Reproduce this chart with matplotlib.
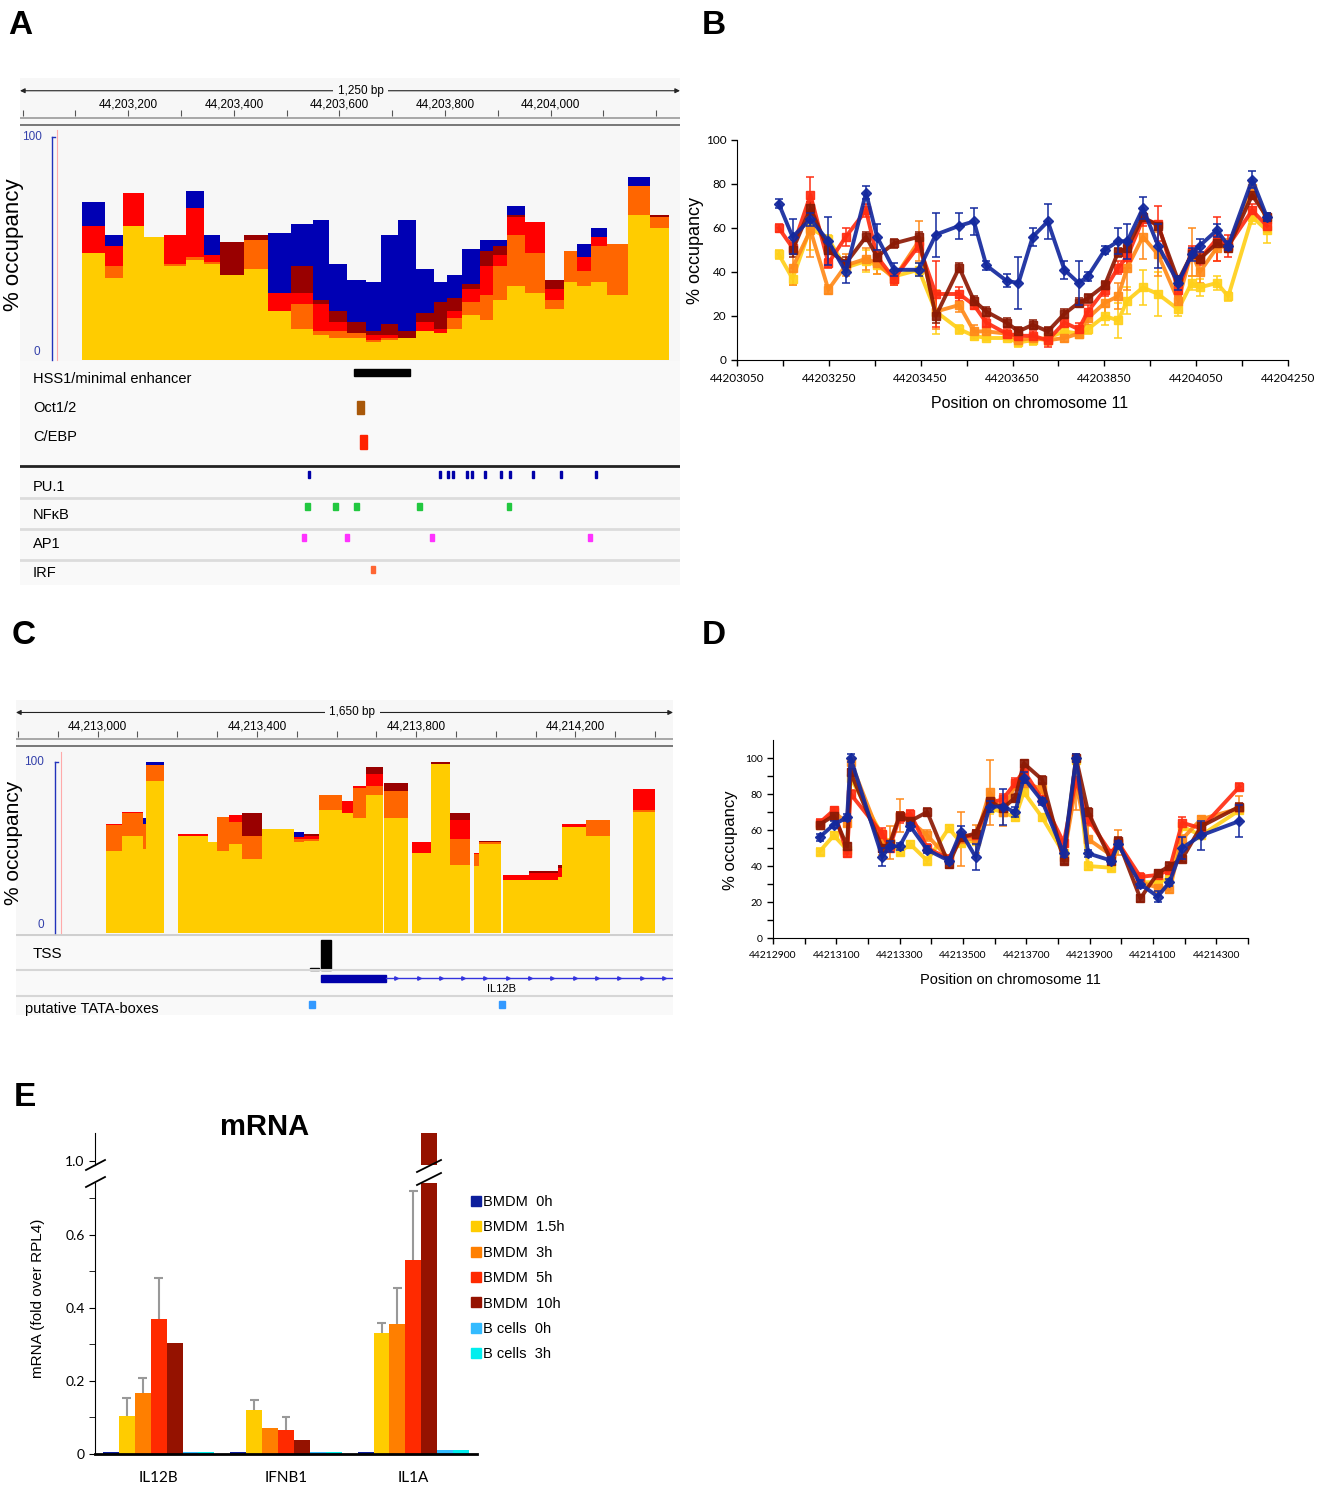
import numpy as np
import matplotlib
matplotlib.use('Agg')
import matplotlib.pyplot as plt
from matplotlib.lines import Line2D
from matplotlib.patches import Rectangle

plt.rcParams['font.family'] = ['Liberation Sans', 'DejaVu Sans']

# ---------------- data: HSS1 region (panels A, B) ----------------
nan = np.nan
b_pos = [44203141, 44203171, 44203210, 44203249, 44203287, 44203331, 44203355, 44203392,
         44203446, 44203483, 44203534, 44203566, 44203593, 44203637, 44203663, 44203694,
         44203727, 44203763, 44203794, 44203814, 44203851, 44203880, 44203900, 44203934,
         44203967, 44204011, 44204040, 44204058, 44204095, 44204120, 44204172, 44204204]
b_0h = [71, 56, 64, 54, 40, 76, 56, 41, 41, 57, 61, 63, 43, 36, 35, 56,
        63, 41, 35, 38, 50, 54, 54, 69, 52, 35, 48, 52, 59, 52, 82, 65]
b_1h5 = [48, 37, 60, 55, 42, 45, 43, 38, 41, 22, 14, 11, 10, 10, 8, 9,
         10, 13, 12, 14, 20, 18, 27, 33, 30, 23, 35, 33, 35, 29, 65, 59]
b_3h = [nan, 42, 59, 32, 43, 46, 44, 37, 54, 22, 25, 13, 13, 12, 9, 10,
        9, 10, 12, 19, 26, 29, 42, 56, 48, 27, 49, 40, 51, 52, 78, 64]
b_5h = [60, 51, 75, 44, 56, 68, 47, 37, 52, 30, 30, 25, 17, 12, 11, 11,
        9, 17, 14, 22, 32, 42, 47, 64, 62, 32, 49, 46, 55, 52, 68, 61]
b_10h = [nan, 50, 69, 50, 44, 56, 47, 53, 56, 20, 42, 27, 22, 17, 13, 16,
         13, 21, 26, 28, 34, 49, 51, 65, 61, 36, 48, 46, 53, 51, 75, 65]
b_err_0h = [2, 8, 3, 11, 5, 3, 6, 3, 3, 10, 6, 6, 2, 3, 12, 4, 8, 4, 10, 2, 2, 6, 8, 5, 10, 3, 3, 3, 3, 2, 4, 2]
b_err_1h5 = [2, 3, 10, 2, 2, 5, 4, 3, 3, 10, 2, 2, 1, 1, 2, 2, 2, 2, 2, 2, 4, 8, 6, 8, 10, 3, 3, 4, 3, 2, 3, 6]
b_err_3h = [0, 8, 12, 2, 5, 5, 5, 3, 9, 8, 3, 3, 2, 1, 2, 2, 2, 2, 2, 3, 6, 6, 10, 10, 10, 3, 11, 5, 6, 3, 3, 3]
b_err_5h = [2, 3, 8, 2, 4, 3, 3, 3, 3, 15, 3, 2, 2, 2, 2, 2, 3, 2, 3, 3, 3, 3, 5, 3, 8, 3, 3, 3, 10, 5, 3, 3]
b_err_10h = [0, 3, 3, 2, 3, 2, 2, 2, 2, 3, 2, 2, 2, 2, 2, 2, 2, 2, 2, 2, 2, 2, 2, 2, 2, 2, 2, 2, 2, 2, 2, 2]
a_first_edge, a_last_edge = 44203113, 44204225

hss1 = (44203628, 44203734)
oct12 = (44203633, 44203647)
cebp = (44203639, 44203652)
pu1_sites = [44203542, 44203790, 44203806, 44203815, 44203842, 44203851, 44203876,
             44203906, 44203923, 44203967, 44204020, 44204086]
nfkb_sites = [44203540, 44203593, 44203633, 44203751, 44203921]
ap1_sites = [44203533, 44203614, 44203775, 44204075]
irf_sites = [44203663]

# ---------------- data: IL12B promoter (panels C, D) ----------------
d_pos = [44213047, 44213092, 44213134, 44213145, 44213245, 44213268, 44213300, 44213334,
         44213387, 44213455, 44213493, 44213540, 44213584, 44213625, 44213665, 44213692,
         44213750, 44213818, 44213857, 44213895, 44213968, 44213990, 44214060, 44214115,
         44214152, 44214192, 44214252, 44214373]
d_0h = [56, 63, 67, 100, 45, 51, 51, 62, 49, 43, 59, 45, 73, 73, 70, 89,
        76, 47, 100, 47, 43, 52, 30, 23, 31, 50, 57, 65]
d_1h5 = [48, 57, 49, 89, 57, 53, 48, 52, 43, 61, 53, 54, 72, 70, 67, 81,
         67, 47, 99, 40, 39, 52, 31, 31, 33, 62, 57, 71]
d_3h = [63, 70, 64, 98, 53, 53, 68, 65, 57, 44, 55, 55, 81, 70, 85, 86,
        83, 45, 85, 55, 46, 53, 31, 28, 27, 55, 66, 72]
d_5h = [64, 71, 47, 80, 58, 50, 67, 69, 50, 44, 56, 57, 75, 77, 86, 93,
        77, 53, 88, 66, 47, 53, 34, 35, 38, 64, 61, 84]
d_10h = [63, 68, 51, 92, 50, 52, 68, 65, 70, 41, 56, 58, 76, 72, 78, 97,
         88, 43, 100, 70, 43, 54, 22, 36, 40, 44, 62, 73]
d_err_0h = [2, 2, 2, 2, 5, 3, 2, 2, 2, 2, 3, 7, 3, 10, 3, 3, 2, 2, 2, 2, 2, 2, 2, 3, 2, 6, 8, 9]
d_err_1h5 = [2, 2, 2, 2, 3, 2, 2, 2, 2, 2, 2, 2, 3, 2, 2, 2, 2, 2, 2, 2, 2, 2, 2, 2, 2, 2, 2, 2]
d_err_3h = [2, 2, 2, 2, 7, 9, 9, 3, 3, 2, 15, 8, 18, 8, 3, 3, 2, 2, 14, 7, 2, 7, 2, 2, 2, 2, 2, 7]
d_err_5h = [2, 2, 2, 2, 3, 2, 3, 2, 2, 2, 3, 3, 3, 3, 3, 3, 2, 2, 3, 3, 2, 2, 2, 2, 2, 3, 2, 2]
d_err_10h = [2, 2, 2, 2, 2, 2, 2, 2, 2, 2, 2, 2, 2, 2, 2, 2, 2, 2, 2, 2, 2, 2, 2, 2, 2, 2, 2, 2]
# genomic extent of each bin in the IGV track of panel C
c_left = [44213022, 44213061, 44213113, 44213122, 44213201, 44213276, 44213300, 44213329,
          44213362, 44213412, 44213494, 44213519, 44213555, 44213613, 44213641, 44213674,
          44213718, 44213790, 44213838, 44213884, 44213945, 44213959, 44214019, 44214083,
          44214157, 44214166, 44214227, 44214344]
c_right = [44213061, 44213113, 44213122, 44213166, 44213276, 44213300, 44213329, 44213362,
           44213412, 44213494, 44213519, 44213555, 44213613, 44213641, 44213674, 44213716,
           44213780, 44213838, 44213884, 44213934, 44213959, 44214013, 44214083, 44214157,
           44214166, 44214227, 44214287, 44214400]
tss = (44213561, 44213586)
tss_small = (44213534, 44213555)
il12b_exon = (44213561, 44213725)
tata_sites = [44213539, 44214016]

# ---------------- data: mRNA (panel E) ----------------
genes = ['IL12B', 'IFNB1', 'IL1A']
e_labels = ['BMDM  0h', 'BMDM  1.5h', 'BMDM  3h', 'BMDM  5h', 'BMDM  10h', 'B cells  0h', 'B cells  3h']
bmdm_0h = [0.006, 0.006, 0.005]
bmdm_1h5 = [0.105, 0.121, 0.330]
bmdm_3h = [0.168, 0.070, 0.355]
bmdm_5h = [0.370, 0.065, 0.530]
bmdm_10h = [0.303, 0.037, 1.300]
bcell_0h = [0.006, 0.006, 0.012]
bcell_3h = [0.006, 0.006, 0.012]
err_1h5 = [0.047, 0.026, 0.030]
err_3h = [0.040, 0.0, 0.100]
err_5h = [0.112, 0.035, 0.190]

# ---------------- styling ----------------
igv_cols = ['#0000b4', '#ffcc00', '#ff6600', '#ff0000', '#990000']
line_cols = ['#14299e', '#ffd01a', '#ff8a1a', '#ff2d12', '#8c1a05']
e_cols = ['#0d1f9c', '#ffcc00', '#ff7f00', '#ff2a00', '#951200', '#33bbff', '#00eeee']
bg = '#f7f7f7'

W, H = 1327, 1489
fig = plt.figure(figsize=(W / 100, H / 100), dpi=100)


def px(x0, y0, x1, y1):
    return [x0 / W, 1 - y1 / H, (x1 - x0) / W, (y1 - y0) / H]


def ftext(x, y, s, **kw):
    kw.setdefault('ha', 'left')
    kw.setdefault('va', 'center')
    fig.text(x / W, 1 - y / H, s, **kw)


def fline(xs, ys, **kw):
    fig.add_artist(Line2D([x / W for x in xs], [1 - y / H for y in ys], **kw))


def bare(ax):
    for s in ax.spines.values():
        s.set_visible(False)
    ax.set_xticks([])
    ax.set_yticks([])
    ax.set_facecolor(bg)


def ruler(rect, lo, hi, labels, span):
    ax = fig.add_axes(rect)
    ax.set_xlim(lo, hi)
    ax.set_ylim(0, 1)
    bare(ax)
    ax.annotate('', xy=(lo, 0.74), xytext=(hi, 0.74),
                arrowprops=dict(arrowstyle='<|-|>', color='#222222', lw=0.8,
                                mutation_scale=7, shrinkA=0, shrinkB=0))
    ax.text((lo + hi) / 2 + 20, 0.74, span, ha='center', va='center', fontsize=8.5,
            bbox=dict(facecolor=bg, edgecolor='none', pad=3))
    ax.vlines(np.arange(np.ceil(lo / 100) * 100, hi, 100), 0.22, 0.35, color='#555555', lw=0.8)
    for p in labels:
        ax.text(p, 0.45, f'{p:,}', ha='center', va='center', fontsize=8.5)
    ax.axhline(0.18, color='#9a9a9a', lw=1.2)
    ax.axhline(0.04, color='#777777', lw=1.4)
    return ax


def overlay_bars(ax, left, right, series):
    # IGV overlay: 0h drawn at the back, then 10h, 5h, 3h and 1.5h in front
    for k in (0, 4, 3, 2, 1):
        s = np.array(series[k], dtype=float)
        ok = ~np.isnan(s)
        l = np.array(left, dtype=float)[ok]
        r = np.array(right, dtype=float)[ok]
        ax.bar(l, s[ok], width=r - l, align='edge', color=igv_cols[k], linewidth=0)


def panel_letter(x, y, s):
    ftext(x, y, s, fontsize=24, fontweight='bold')


# ================= Panel A =================
a_lo, a_hi = 44202995, 44204245
ruler(px(20, 78, 680, 127), a_lo, a_hi, [44203200, 44203400, 44203600, 44203800, 44204000], '1,250 bp')

ax_a = fig.add_axes(px(20, 127, 680, 361))
ax_a.set_xlim(a_lo, a_hi)
ax_a.set_ylim(-0.45, 104.5)
bare(ax_a)
pos = np.array(b_pos, dtype=float)
mids = list((pos[:-1] + pos[1:]) / 2)
a_edges = [a_first_edge] + mids + [a_last_edge]
overlay_bars(ax_a, a_edges[:-1], a_edges[1:], [b_0h, b_1h5, b_3h, b_5h, b_10h])
fline([52, 52], [137, 360], color='#2233bb', lw=1)
fline([52, 55], [137, 137], color='#2233bb', lw=1)
fline([57, 57], [130, 360], color='#ffaaaa', lw=0.8)
ftext(22, 137, '100', fontsize=8.5, color='#3340aa')
ftext(33, 352, '0', fontsize=8.5, color='#3340aa')
ftext(14, 245, '% occupancy', fontsize=16, rotation=90, ha='center')

fa = fig.add_axes(px(20, 361, 680, 585))
fa.set_xlim(a_lo, a_hi)
fa.set_ylim(585, 361)
bare(fa)
fa.set_facecolor('#f9f9f9')
fa.add_patch(Rectangle((hss1[0], 369), hss1[1] - hss1[0], 7, color='black'))
fa.add_patch(Rectangle((oct12[0], 401), oct12[1] - oct12[0], 13, color='#a8580a'))
fa.add_patch(Rectangle((cebp[0], 435), cebp[1] - cebp[0], 14, color='#ff2200'))
fa.axhline(466, color='#222222', lw=2)
for yy in (498, 529, 560):
    fa.axhline(yy, color='#dcdcdc', lw=2)
for p in pu1_sites:
    fa.add_patch(Rectangle((p - 2, 471), 4, 7, color='#0000a8'))
for p in nfkb_sites:
    fa.add_patch(Rectangle((p - 4.5, 503), 9, 7, color='#22c840'))
for p in ap1_sites:
    fa.add_patch(Rectangle((p - 3.5, 534), 7, 7, color='#ff33ff'))
for p in irf_sites:
    fa.add_patch(Rectangle((p - 3.5, 566), 7, 7, color='#ff6633'))
for lab, yy in [('HSS1/minimal enhancer', 379), ('Oct1/2', 408), ('C/EBP', 437),
                ('PU.1', 487), ('NFκB', 515), ('AP1', 544), ('IRF', 573)]:
    ftext(33, yy, lab, fontsize=10.5)


# ================= line charts (B, D) =================
def occupancy_chart(rect, xpos, series, errs, xlo, xhi, ytop, tick_fs, minor_y):
    ax = fig.add_axes(rect)
    for k in (1, 2, 3, 4, 0):
        mk = 'D' if k == 0 else 's'
        ax.errorbar(xpos, series[k], yerr=errs[k], color=line_cols[k], lw=2.8, marker=mk,
                    ms=6 if k else 5.5, capsize=3, capthick=1.2, elinewidth=1.2, alpha=0.92,
                    zorder=3 + (k == 0))
    ax.set_xlim(xlo, xhi)
    ax.set_ylim(0, ytop)
    for s in ('top', 'right'):
        ax.spines[s].set_visible(False)
    major = np.arange(xlo, xhi + 1, 200)
    ax.set_xticks(major, [str(int(v)) for v in major], fontsize=tick_fs, family='Lato')
    ax.set_xticks(np.arange(xlo + 100, xhi + 1, 200), minor=True)
    ax.set_yticks(np.arange(0, 101, 20), [str(v) for v in range(0, 101, 20)], fontsize=tick_fs, family='Lato')
    if minor_y:
        ax.set_yticks(np.arange(10, ytop, 20), minor=True)
    ax.tick_params(which='both', length=4, width=1)
    ax.tick_params(axis='x', pad=5)
    return ax


ax_b = occupancy_chart(px(737, 140, 1288, 360), b_pos,
                       [b_0h, b_1h5, b_3h, b_5h, b_10h],
                       [b_err_0h, b_err_1h5, b_err_3h, b_err_5h, b_err_10h],
                       44203050, 44204250, 100, 8.5, False)
ftext(696, 250, '% occupancy', fontsize=13, rotation=90, ha='center')
ftext(1030, 404, 'Position on chromosome 11', fontsize=11.5, ha='center')

ax_d = occupancy_chart(px(773, 740, 1248, 938), d_pos,
                       [d_0h, d_1h5, d_3h, d_5h, d_10h],
                       [d_err_0h, d_err_1h5, d_err_3h, d_err_5h, d_err_10h],
                       44212900, 44214400, 110, 7.5, True)
d_major = np.arange(44212900, 44214301, 200)
ax_d.set_xticks(d_major, [str(int(v)) for v in d_major], fontsize=7.5, family='Lato')
ftext(730, 840, '% occupancy', fontsize=12, rotation=90, ha='center')
ftext(1010, 980, 'Position on chromosome 11', fontsize=10.5, ha='center')

# ================= Panel C =================
c_lo, c_hi = 44212795, 44214445
ruler(px(16, 700, 673, 748), c_lo, c_hi, [44213000, 44213400, 44213800, 44214200], '1,650 bp')
ax_c = fig.add_axes(px(16, 748, 673, 934))
ax_c.set_xlim(c_lo, c_hi)
ax_c.set_ylim(-0.58, 108.2)
bare(ax_c)
overlay_bars(ax_c, c_left, c_right, [d_0h, d_1h5, d_3h, d_5h, d_10h])
fline([55, 55], [762, 933], color='#2233bb', lw=1)
fline([55, 58], [762, 762], color='#2233bb', lw=1)
fline([61, 61], [752, 933], color='#ffaaaa', lw=0.8)
ftext(24, 762, '100', fontsize=8.5, color='#3340aa')
ftext(37, 925, '0', fontsize=8.5, color='#3340aa')
ftext(14, 843, '% occupancy', fontsize=15, rotation=90, ha='center')

fc = fig.add_axes(px(16, 934, 673, 1015))
fc.set_xlim(c_lo, c_hi)
fc.set_ylim(1015, 934)
bare(fc)
fc.set_facecolor('#f9f9f9')
fc.axhline(935, color='#cfcfcf', lw=1.5)
fc.axhline(970.5, color='#d6d6d6', lw=1.5)
fc.axhline(996, color='#d6d6d6', lw=1.5)
fc.add_patch(Rectangle((tss[0], 940), tss[1] - tss[0], 30, color='black'))
fc.add_patch(Rectangle((tss_small[0], 968), tss_small[1] - tss_small[0], 2, color='black'))
fc.plot([il12b_exon[1], c_hi], [978.5, 978.5], color='#3333dd', lw=1)
intron_marks = np.arange(il12b_exon[1] + 25, c_hi, 56)
fc.plot(intron_marks, [978.5] * len(intron_marks), ls='none', marker='>', ms=2.5, color='#3333dd')
fc.add_patch(Rectangle((il12b_exon[0], 975), il12b_exon[1] - il12b_exon[0], 7, color='#0000aa'))
for p in tata_sites:
    fc.add_patch(Rectangle((p - 7, 1001), 14, 7, color='#3399ff'))
ftext(502, 989, 'IL12B', fontsize=8, ha='center')
ftext(33, 954, 'TSS', fontsize=11)
ftext(25, 1009, 'putative TATA-boxes', fontsize=10.5)

# ================= Panel E =================
e_series = [bmdm_0h, bmdm_1h5, bmdm_3h, bmdm_5h, bmdm_10h, bcell_0h, bcell_3h]
e_errs = {1: err_1h5, 2: err_3h, 3: err_5h}
ax_lo = fig.add_axes(px(95, 1183, 477, 1454))
ax_hi = fig.add_axes(px(95, 1133, 477, 1165))
x = np.arange(len(genes))
width = 0.125
for k, (vals, col) in enumerate(zip(e_series, e_cols)):
    xs = x + (k - 3) * width
    for ax in (ax_lo, ax_hi):
        ax.bar(xs, vals, width=width, color=col, linewidth=0)
    if k in e_errs:
        top = np.array(vals) + np.array(e_errs[k])
        show = np.array(e_errs[k]) > 0
        ax_lo.vlines(xs[show], np.array(vals)[show], top[show], color='#999999', lw=1.5, zorder=4)
        ax_lo.hlines(top[show], xs[show] - 0.035, xs[show] + 0.035, color='#999999', lw=1.5, zorder=4)
for ax in (ax_lo, ax_hi):
    ax.set_xlim(-0.5, 2.5)
    for s in ('top', 'right'):
        ax.spines[s].set_visible(False)
ax_lo.set_ylim(0, 0.742)
ax_lo.spines['bottom'].set_linewidth(2)
ax_lo.set_xticks(x, genes, fontsize=11, family='Lato')
ax_lo.tick_params(axis='x', length=0, pad=12)
ax_lo.set_yticks([0, 0.2, 0.4, 0.6], ['0', '0.2', '0.4', '0.6'], fontsize=10, family='Lato')
ax_lo.set_yticks([0.1, 0.3, 0.5, 0.7], minor=True)
ax_lo.tick_params(axis='y', which='both', length=4)
ax_hi.set_ylim(0.99, 1.08)
ax_hi.spines['bottom'].set_visible(False)
ax_hi.set_xticks([])
ax_hi.set_yticks([1.0], ['1.0'], fontsize=10, family='Lato')
ax_hi.tick_params(axis='y', length=4)
fline([86, 105], [1170, 1160], color='black', lw=1.3)
fline([86, 105], [1187, 1177], color='black', lw=1.3)
fline([417, 441], [1172, 1160], color='black', lw=1.3)
fline([417, 441], [1185, 1173], color='black', lw=1.3)
ftext(38, 1298, 'mRNA (fold over RPL4)', fontsize=11, rotation=90, ha='center')
ftext(265, 1127, 'mRNA', fontsize=21, fontweight='bold', ha='center')
handles = [Line2D([], [], ls='none', marker='s', ms=7, color=c) for c in e_cols]
fig.legend(handles, e_labels, loc='upper left', bbox_to_anchor=(472 / W, 1 - 1195 / H),
           frameon=False, fontsize=10.5, handlelength=0.6, handletextpad=0.15,
           labelspacing=0.78, borderaxespad=0, borderpad=0)

panel_letter(8, 25, 'A')
panel_letter(702, 25, 'B')
panel_letter(12, 635, 'C')
panel_letter(702, 635, 'D')
panel_letter(14, 1097, 'E')

fig.savefig('out.png', dpi=100)
